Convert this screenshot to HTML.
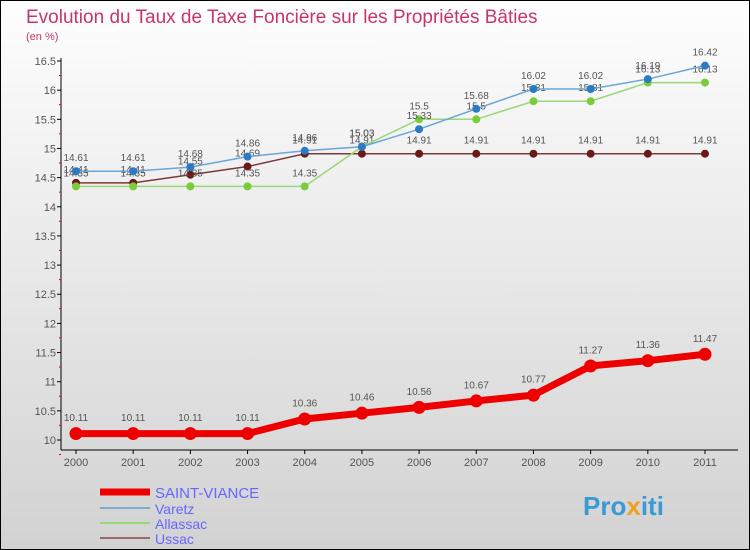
<!DOCTYPE html>
<html><head><meta charset="utf-8"><style>
body{margin:0}
#c{width:750px;height:550px;position:relative;box-sizing:border-box;border:1px solid #000;background:linear-gradient(#fefefe,#d2d2d2);font-family:"Liberation Sans",sans-serif;overflow:hidden}
</style></head><body>
<div id="c">
<svg id="s" width="750" height="550" style="position:absolute;left:-1px;top:-1px">
<text x="26" y="23" font-size="19" fill="#c8356a">Evolution du Taux de Taxe Foncière sur les Propriétés Bâties</text>
<text x="26" y="40" font-size="11" fill="#c8356a">(en %)</text>
<g id="axes"></g><g id="series"></g>
<g>
<line x1="100" y1="492" x2="150" y2="492" stroke="#e00" stroke-width="7"/>
<text x="155" y="498" font-size="15" fill="#66f">SAINT-VIANCE</text>
<line x1="100" y1="508" x2="150" y2="508" stroke="#7aaed0" stroke-width="2"/>
<text x="155" y="514" font-size="14" fill="#66f">Varetz</text>
<line x1="100" y1="523" x2="150" y2="523" stroke="#9ad67a" stroke-width="2"/>
<text x="155" y="529" font-size="14" fill="#66f">Allassac</text>
<line x1="100" y1="538" x2="150" y2="538" stroke="#9a6a6a" stroke-width="2"/>
<text x="155" y="544" font-size="14" fill="#66f">Ussac</text>
</g>
<text x="583" y="515" font-size="26" font-weight="bold" fill="#3a9ad6">Pro<tspan fill="#f0a020">x</tspan>iti</text>
</svg></div>
<script>
const years=[2000,2001,2002,2003,2004,2005,2006,2007,2008,2009,2010,2011];
const yTicks=[10,10.5,11,11.5,12,12.5,13,13.5,14,14.5,15,15.5,16,16.5];
const saintViance=[10.11,10.11,10.11,10.11,10.36,10.46,10.56,10.67,10.77,11.27,11.36,11.47];
const varetz=[14.61,14.61,14.68,14.86,14.96,15.03,15.33,15.68,16.02,16.02,16.19,16.42];
const allassac=[14.35,14.35,14.35,14.35,14.35,15.03,15.5,15.5,15.81,15.81,16.13,16.13];
const ussac=[14.41,14.41,14.55,14.69,14.91,14.91,14.91,14.91,14.91,14.91,14.91,14.91];
const NS="http://www.w3.org/2000/svg";
const xS=i=>76+i*(705-76)/11;
const yS=v=>440-(v-10)*(440-61)/6.5;
function mk(t,a,p){const e=document.createElementNS(NS,t);for(const k in a)e.setAttribute(k,a[k]);p.appendChild(e);return e;}
const ax=document.getElementById('axes');
let yl=mk('line',{x1:61,y1:58,x2:61,y2:450,stroke:'#000'},ax);


let xl=mk('line',{x1:61,y1:450,x2:738,y2:450,stroke:'#000'},ax);


yTicks.forEach(v=>{const y=yS(v);mk('line',{x1:57,y1:y,x2:61,y2:y,stroke:'#000'},ax);
mk('line',{x1:59,y1:y+14.5,x2:61,y2:y+14.5,stroke:'#e00'},ax);
const t=mk('text',{x:56,y:y+4,'font-size':11,fill:'#555','text-anchor':'end'},ax);t.textContent=String(v);

});
years.forEach((yr,i)=>{const x=xS(i);mk('line',{x1:x,y1:450,x2:x,y2:454,stroke:'#000'},ax);
const t=mk('text',{x:x,y:466,'font-size':11,fill:'#555','text-anchor':'middle'},ax);t.textContent=yr;

});
const sg=document.getElementById('series');
function draw(data,name,col,dot,w,r,fs){
const g=mk('g',{},sg);


const pl=mk('polyline',{points:data.map((v,i)=>xS(i)+','+yS(v)).join(' '),fill:'none',stroke:col,'stroke-width':w},g);


data.forEach((v,i)=>{const c=mk('circle',{cx:xS(i),cy:yS(v),r:r,fill:dot},g);


const t=mk('text',{x:xS(i),y:yS(v)-(r+6),'font-size':fs,fill:'#555','text-anchor':'middle'},g);t.textContent=String(v);

});}
draw(ussac,'ussac','#7a3a3a','#6a1a1a',1.5,4,10);
draw(allassac,'allassac','#9ad67a','#7acc3a',1.5,4,10);
draw(varetz,'varetz','#6aa6d6','#2a7ac6',1.5,4,10);
draw(saintViance,'saint-viance','#e00','#e00',7,6.5,10);
</script>
</body></html>
